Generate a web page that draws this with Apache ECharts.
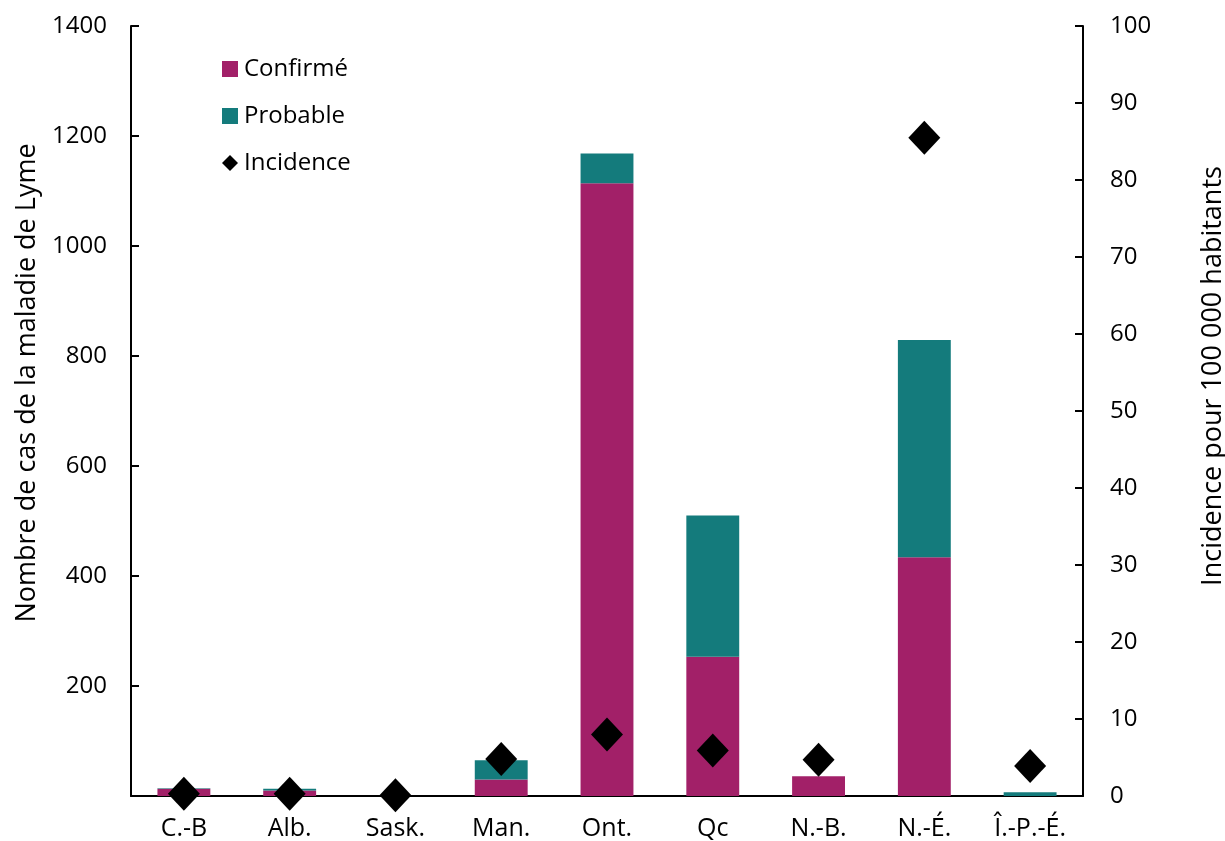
<!DOCTYPE html>
<html><head><meta charset="utf-8">
<script src="https://cdn.jsdelivr.net/npm/echarts@6/dist/echarts.min.js"></script>
<style>html,body{margin:0;padding:0;background:#fff}#c{width:1225px;height:841px}</style>
</head><body><div id="c"></div>
<script>
var categories = ['C.-B','Alb.','Sask.','Man.','Ont.','Qc','N.-B.','N.-É.','Î.-P.-É.'];
var confirmed = [13, 10, 0, 30, 1114, 253, 36, 434, 0];
var probable  = [1, 3, 0, 35, 54, 257, 0, 395, 7];
var incidence = [0.3, 0.3, 0.1, 4.8, 8.0, 5.9, 4.7, 85.5, 3.9];
var leftTicks = {min:0, max:1400, interval:200};
var rightTicks = {min:0, max:100, interval:10};

var FONT = '"Open Sans", "Noto Sans", sans-serif';
var chart = echarts.init(document.getElementById('c'));
chart.setOption({
  animation:false,
  textStyle:{fontFamily:FONT},
  grid:{left:131, right:142, top:26, bottom:45, containLabel:false, outerBoundsMode:'none'},
  legend:{
    orient:'vertical', left:217, top:52, itemGap:23, itemWidth:16, itemHeight:16,
    textStyle:{fontSize:24, color:'#000', fontFamily:FONT, padding:[0,0,0,1]},
    data:[{name:'Confirmé', icon:'rect'},{name:'Probable', icon:'rect'},{name:'Incidence', icon:'diamond'}]
  },
  xAxis:{
    type:'category', data:categories,
    axisLine:{lineStyle:{color:'#000', width:2}},
    axisTick:{show:false},
    axisLabel:{color:'#000', fontSize:25, margin:20, fontFamily:FONT}
  },
  yAxis:[{
    type:'value', min:leftTicks.min, max:leftTicks.max, interval:leftTicks.interval,
    name:'Nombre de cas de la maladie de Lyme', nameLocation:'middle', nameGap:86,
    nameTextStyle:{fontSize:27, color:'#000', fontFamily:FONT, padding:[0,0,0,56]},
    axisLine:{show:true, lineStyle:{color:'#000', width:2}},
    axisTick:{show:true, inside:true, length:8, lineStyle:{color:'#000', width:2}},
    splitLine:{show:false},
    axisLabel:{color:'#000', fontSize:24, margin:24, fontFamily:FONT,
      formatter:function(v){return v===0?'':v;}}
  },{
    type:'value', min:rightTicks.min, max:rightTicks.max, interval:rightTicks.interval,
    position:'right',
    name:'Incidence pour 100 000 habitants', nameLocation:'middle', nameGap:117,
    nameTextStyle:{fontSize:27, color:'#000', fontFamily:FONT, padding:[0,0,0,70]},
    axisLine:{show:true, lineStyle:{color:'#000', width:2}},
    axisTick:{show:true, inside:true, length:8, lineStyle:{color:'#000', width:2}},
    splitLine:{show:false},
    axisLabel:{color:'#000', fontSize:24, margin:27, fontFamily:FONT}
  }],
  series:[
    {name:'Confirmé', type:'bar', stack:'cas', data:confirmed, barWidth:'50%',
      itemStyle:{color:'#A22068'}},
    {name:'Probable', type:'bar', stack:'cas', data:probable, barWidth:'50%',
      itemStyle:{color:'#147B7C'}},
    {name:'Incidence', type:'scatter', yAxisIndex:1, data:incidence,
      symbol:'diamond', symbolSize:[32,34], itemStyle:{color:'#000', opacity:1}, z:5}
  ]
});
</script></body></html>
